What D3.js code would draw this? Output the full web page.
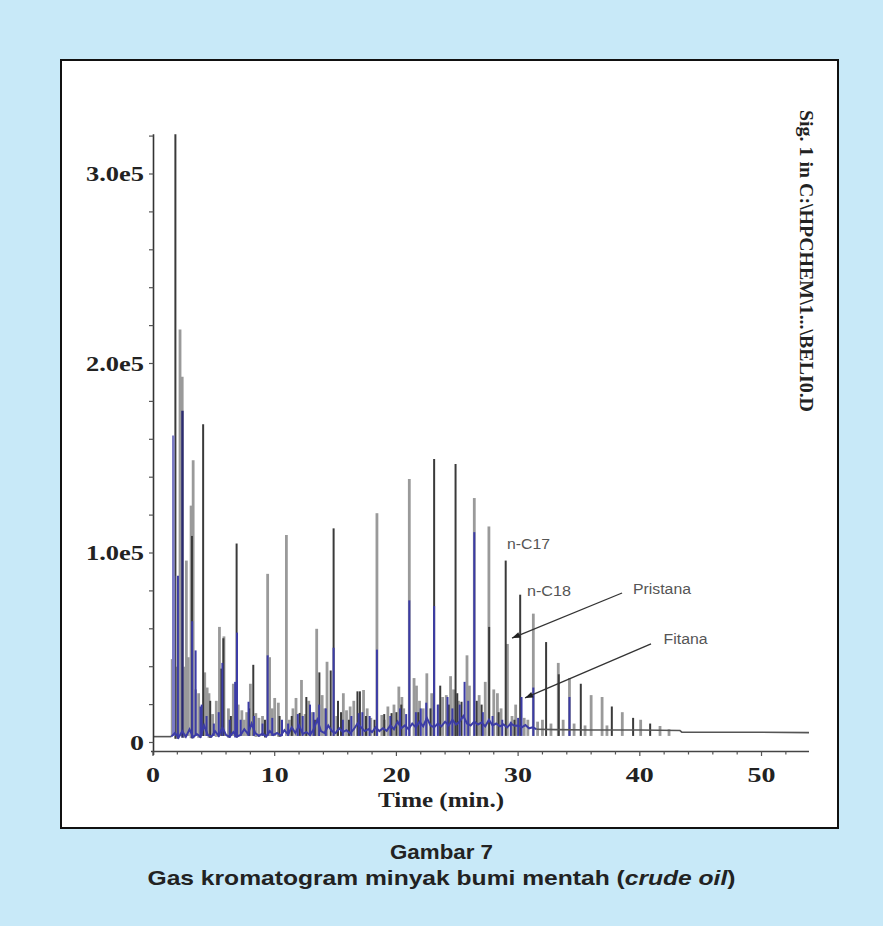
<!DOCTYPE html>
<html><head><meta charset="utf-8">
<script src="https://cdn.jsdelivr.net/npm/d3@7"></script>
<style>html,body{margin:0;padding:0;background:#c8e9f8;}svg{display:block}</style>
</head><body><svg id="c" width="883" height="926"></svg>
<script>
// ---------- DATA (time in min, intensity in thousands of counts) ----------
const yTickValues = [0, 100, 200, 300];
const yTickLabels = ["0", "1.0e5", "2.0e5", "3.0e5"];
const xTickValues = [0, 10, 20, 30, 40, 50];
const xTickLabels = ["0", "10", "20", "30", "40", "50"];

const grayPeaks = [[1.58,44],[1.95,40],[2.22,218],[2.40,193],[2.6,40],[2.74,96],[2.9,45],[3.13,125],[3.30,149],[3.5,28],[3.75,26],
  [4.25,37],[4.45,29],[4.6,26],[4.9,15],[5.2,22],[5.46,61],[5.83,56],[6.2,18],[6.6,31],[7.0,20],[7.3,17],[7.5,12],[7.7,16],
  [8.0,31],[8.45,15.5],[8.7,13],[9.0,14],[9.42,89],[9.58,45],[9.8,18],[10.0,23.5],[10.3,21],[10.96,109.5],[11.2,12],[11.5,18],
  [11.75,23.5],[12.2,33],[12.5,15],[12.8,22],[13.1,16],[13.45,60],[13.9,25],[14.1,18],[14.3,42.6],[15.1,14],[15.64,26],
  [15.9,17],[16.2,19],[16.5,22],[17.3,27.7],[17.6,18],[17.9,13],[18.4,121],[18.8,14.5],[19.0,12],[19.3,19],[19.8,20],
  [20.2,29.5],[20.45,24],[20.6,18],[21.06,139],[21.45,34],[21.65,30],[21.9,22],[22.2,18],[22.5,36.5],[22.9,26],[23.5,20],
  [23.8,24],[24.1,25],[24.45,35],[24.7,28],[25.1,22],[25.8,46],[26.0,30],[26.4,129],[26.8,25],[27.3,32],[27.6,114],[28.0,28],
  [28.3,26],[28.6,18],[29.12,52],[29.5,14],[29.8,20],[30.5,13],[30.8,12],[31.25,68],[31.6,11],[32.0,12],[32.7,10],[33.3,42],
  [33.7,12],[34.22,34],[34.6,10],[35.5,9],[36.0,25],[36.9,24],[37.3,9],[38.56,16],[40.07,12],[41.66,8.7],[42.4,7]];

const darkPeaks = [[1.84,321],[3.2,109],[4.12,168],[4.7,22],[5.62,39],[5.78,55],[6.4,14],[6.87,105],[7.9,18],[8.24,41],
  [9.2,12],[10.4,14],[11.4,14],[12.05,15.6],[12.6,24],[13.3,12],[13.67,37],[14.6,38],[14.84,113],[15.2,22],[15.45,16],
  [16.1,12],[16.8,27],[17.0,27],[17.5,14],[18.2,12],[19.0,15],[19.6,15.5],[20.0,16],[20.4,20],[21.8,16],[22.8,18],
  [23.1,149.6],[23.6,30],[24.3,20],[24.86,147],[25.0,26],[25.35,21.5],[26.6,22],[27.0,20],[27.62,61],[28.4,16],[28.98,96],
  [29.7,12],[30.17,78],[32.3,53],[33.34,36],[35.15,31],[37.7,19],[39.45,13],[40.85,10]];

const bluePeaks = [[2.05,88],[3.22,64],[3.5,48.6],[3.9,19],[4.0,20],[4.4,14],[5.0,10],[5.4,16],[5.7,42],[6.3,12],[6.75,32],
  [6.9,58],[7.2,12],[7.85,21.5],[8.3,14],[9.0,10],[9.42,46],[9.8,13],[10.6,12],[11.1,10],[11.9,15],[12.3,14],[12.9,20],
  [13.2,16],[13.65,20],[14.2,18],[14.84,50],[15.6,12],[16.3,14],[16.9,15.5],[17.2,16],[17.8,14],[18.4,49],[19.5,14],
  [20.3,18],[20.8,15],[21.06,75],[21.6,16],[22.0,18],[22.45,21],[23.1,72],[23.4,20],[24.2,24],[24.6,18],[25.2,20],
  [25.6,32],[25.9,22],[26.4,111],[27.1,16],[27.9,14],[28.7,12],[29.4,11],[30.0,13],[30.28,24],[31.25,29],[34.22,24]];

const paleBluePeaks = [[1.67,162],[1.72,88]];
const navyPeaks = [[2.42,175]];

const headBase = [[0,3.1],[1.5,3.1]];
const noiseTrace = [[1.5,3.1],[1.8,5],[2.1,2.5],[2.4,6],[2.7,3],[3.0,7],[3.3,2.8],[3.6,4.5],[3.9,3],[4.2,9],[4.5,4],[4.8,3],
  [5.1,6],[5.4,3.5],[5.7,8],[6.0,4],[6.3,3],[6.6,5.5],[6.9,3.2],[7.2,4],[7.5,7],[7.8,4.5],[8.1,10],[8.4,5],[8.7,3.5],
  [9.0,4.8],[9.3,3.2],[9.6,6],[9.9,4],[10.2,5],[10.5,3.6],[10.8,6.5],[11.1,4.2],[11.4,8],[11.7,5],[12.0,9],[12.3,4.5],
  [12.6,5.5],[12.9,4],[13.2,7],[13.5,12],[13.8,6],[14.1,5],[14.4,9],[14.7,6],[15.0,5],[15.3,7.5],[15.6,5.5],[15.9,6.5],
  [16.2,4.8],[16.5,7],[16.8,10],[17.1,8],[17.4,6],[17.7,7],[18.0,5.5],[18.3,8],[18.6,6],[18.9,7.5],[19.2,6.2],[19.5,9],
  [19.8,7],[20.1,11],[20.4,7.5],[20.7,9],[21.0,7],[21.3,10],[21.6,8],[21.9,11],[22.2,8.5],[22.5,13],[22.8,9],[23.1,8],
  [23.4,10],[23.7,8.5],[24.0,11],[24.3,9],[24.6,12],[24.9,9.5],[25.2,11],[25.5,14],[25.8,10],[26.1,9],[26.4,11],[26.7,9.5],
  [27.0,10.5],[27.3,8.5],[27.6,12],[27.9,9],[28.2,10],[28.5,8.5],[28.8,9.5],[29.1,8],[29.4,10],[29.7,8.8],[30.0,9],
  [30.3,8],[30.6,9.2],[30.9,7.5],[31.2,8],[31.5,7]];
const tailBase = [[31.5,7],[33,6.8],[36,6.6],[40,6.6],[43.3,6.3],[43.45,5.5],[50,5.4],[53.9,5.2]];

const annotations = [
  {text:"n-C17", t:29.09, v:102, w:43},
  {text:"n-C18", t:30.73, v:77.3, w:44},
  {text:"Pristana", t:39.44, v:78.4, w:58},
  {text:"Fitana", t:41.95, v:52.2, w:44}
];
const arrows = [
  {from:[38.54,78.9], to:[29.5,55.1]},
  {from:[40.92,52.0], to:[30.57,23.5]}
];
const sideText = "Sig. 1 in C:\\HPCHEM\\1...\\BELI0.D";
const xTitle = "Time (min.)";
const captionTitle = "Gambar 7";

// ---------- DRAW ----------
const svg = d3.select("#c");
svg.append("rect").attr("x",0).attr("y",0).attr("width",883).attr("height",926).attr("fill","#c8e9f8");
svg.append("rect").attr("x",61).attr("y",60).attr("width",777).attr("height",768)
  .attr("fill","#fff").attr("stroke","#111").attr("stroke-width",2);

const x = d3.scaleLinear().domain([0,54]).range([153,810.2]);
const y = d3.scaleLinear().domain([0,321]).range([742.5,134.2]);

const allBase = headBase.concat(noiseTrace.slice(1), tailBase.slice(1));
const bis = d3.bisector(d => d[0]).left;
function baseAt(t){ const i = Math.min(bis(allBase,t), allBase.length-1); return allBase[i][1]; }

function drawPeaks(data, color, w){
  svg.append("g").selectAll("line").data(data).join("line")
    .attr("x1", d=>x(d[0])).attr("x2", d=>x(d[0]))
    .attr("y1", d=>y(Math.min(baseAt(d[0]),4))+1).attr("y2", d=>y(d[1]))
    .attr("stroke", color).attr("stroke-width", w);
}
drawPeaks(grayPeaks, "#9a9a9a", 2.8);
drawPeaks(darkPeaks, "#3a3a3a", 2);
drawPeaks(paleBluePeaks, "#7a7ac6", 2.6);
drawPeaks(navyPeaks, "#2b2b70", 2.4);
drawPeaks(bluePeaks, "#3c3ca6", 2);

const line = d3.line().x(d=>x(d[0])).y(d=>y(d[1]));
svg.append("path").datum(headBase).attr("d",line).attr("fill","none").attr("stroke","#555").attr("stroke-width",1.6);
svg.append("path").datum(noiseTrace).attr("d",line).attr("fill","none").attr("stroke","#3c3ca6").attr("stroke-width",2);
svg.append("path").datum(tailBase).attr("d",line).attr("fill","none").attr("stroke","#555").attr("stroke-width",1.6);

// axes
const yAxis = svg.append("g");
yAxis.append("line").attr("x1",153.5).attr("x2",153.5).attr("y1",y(321)).attr("y2",755)
  .attr("stroke","#333").attr("stroke-width",1.6);
yAxis.selectAll("line.t").data(d3.range(0,321,20)).join("line").attr("class","t")
  .attr("x1",149).attr("x2",153.5).attr("y1",d=>y(d)).attr("y2",d=>y(d))
  .attr("stroke","#555").attr("stroke-width",1.2);
yAxis.selectAll("text").data(yTickValues).join("text")
  .attr("x",144).attr("y",d=>y(d)+7.5).attr("text-anchor","end")
  .attr("font-family","Liberation Serif, Times New Roman, serif").attr("font-weight","bold").attr("font-size",21)
  .attr("fill","#222")
  .attr("textLength",(d,i)=>yTickLabels[i].length===1?14:58).attr("lengthAdjust","spacingAndGlyphs")
  .text((d,i)=>yTickLabels[i]);

const xAxis = svg.append("g");
xAxis.append("line").attr("x1",151).attr("x2",x(53.9)).attr("y1",751.5).attr("y2",751.5)
  .attr("stroke","#444").attr("stroke-width",1.6);
xAxis.selectAll("line.t").data(d3.range(0,54,2)).join("line").attr("class","t")
  .attr("x1",d=>x(d)).attr("x2",d=>x(d)).attr("y1",751.5).attr("y2",d=>d%10===0?756:754.5)
  .attr("stroke","#555").attr("stroke-width",1.2);
xAxis.selectAll("text").data(xTickValues).join("text")
  .attr("x",d=>x(d)).attr("y",781.5).attr("text-anchor","middle")
  .attr("font-family","Liberation Serif, Times New Roman, serif").attr("font-weight","bold").attr("font-size",21)
  .attr("fill","#222")
  .attr("textLength",(d,i)=>xTickLabels[i].length===1?14:28).attr("lengthAdjust","spacingAndGlyphs")
  .text((d,i)=>xTickLabels[i]);
svg.append("text").attr("x",441).attr("y",807).attr("text-anchor","middle")
  .attr("font-family","Liberation Serif, Times New Roman, serif").attr("font-weight","bold").attr("font-size",21)
  .attr("fill","#222").attr("textLength",126).attr("lengthAdjust","spacingAndGlyphs").text(xTitle);

// side label
svg.append("text").attr("transform","translate(800,110) rotate(90)")
  .attr("font-family","Liberation Serif, Times New Roman, serif").attr("font-weight","bold").attr("font-size",18)
  .attr("fill","#222").attr("textLength",302).attr("lengthAdjust","spacingAndGlyphs").text(sideText);

// annotations
svg.append("g").selectAll("text").data(annotations).join("text")
  .attr("x",d=>x(d.t)).attr("y",d=>y(d.v))
  .attr("font-family","Liberation Sans, Arial, sans-serif").attr("font-size",14).attr("fill","#555")
  .attr("textLength",d=>d.w).attr("lengthAdjust","spacingAndGlyphs").text(d=>d.text);
const ag = svg.append("g");
arrows.forEach(a=>{
  const x1=x(a.from[0]), y1=y(a.from[1]), x2=x(a.to[0]), y2=y(a.to[1]);
  ag.append("line").attr("x1",x1).attr("y1",y1).attr("x2",x2).attr("y2",y2).attr("stroke","#333").attr("stroke-width",1.3);
  const ang = Math.atan2(y2-y1,x2-x1), L=8, W=3;
  const bx = x2 - L*Math.cos(ang), by = y2 - L*Math.sin(ang);
  const px = -Math.sin(ang)*W, py = Math.cos(ang)*W;
  ag.append("path").attr("d",`M${x2},${y2}L${bx+px},${by+py}L${bx-px},${by-py}Z`).attr("fill","#222");
});

// caption
svg.append("text").attr("x",441.5).attr("y",859).attr("text-anchor","middle")
  .attr("font-family","Liberation Sans, Arial, sans-serif").attr("font-weight","bold").attr("font-size",21).attr("fill","#222")
  .attr("textLength",103).attr("lengthAdjust","spacingAndGlyphs").text(captionTitle);
const l2 = svg.append("text").attr("x",441.5).attr("y",885).attr("text-anchor","middle")
  .attr("font-family","Liberation Sans, Arial, sans-serif").attr("font-weight","bold").attr("font-size",21).attr("fill","#222")
  .attr("textLength",588).attr("lengthAdjust","spacingAndGlyphs");
l2.append("tspan").text("Gas kromatogram minyak bumi mentah (");
l2.append("tspan").attr("font-style","italic").text("crude oil");
l2.append("tspan").text(")");
</script></body></html>
